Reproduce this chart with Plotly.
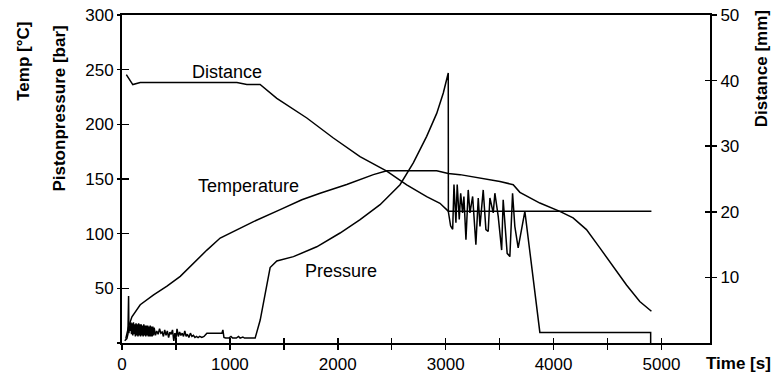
import plotly.graph_objects as go

# ---------------- data ----------------
temp_t = [35, 61, 92, 169, 293, 417, 540, 663, 787, 910, 1033, 1219, 1466, 1667, 1836,
          2083, 2330, 2454, 2917, 3024, 3133, 3503, 3626, 3688, 3873, 4058, 4181, 4305,
          4429, 4552, 4676, 4799, 4907]
temp_c = [4, 15, 24, 35, 44, 52, 61, 73, 85, 96, 102, 111, 122, 131, 137,
          145, 154, 157.6, 157.6, 155, 154, 147.8, 144.8, 137.8, 128, 120.4, 114.4, 103.7,
          87, 70, 53, 38, 29]

dist_t = [40, 100, 169, 1065, 1157, 1280, 1435, 1713, 1959, 2206, 2454, 2577, 2639,
          2824, 2947, 3024, 4907]
dist_mm = [40.9, 39.4, 39.7, 39.7, 39.4, 39.4, 37.3, 34.3, 31.25, 28.4, 26.2, 24.8, 24.1,
           22.3, 21.3, 20.1, 20.1]

press_t = [25, 45, 55, 61, 64, 70, 76, 82, 88, 94, 100, 106, 112, 118, 124, 130, 136, 142,
           148, 154, 160, 166, 172, 178, 184, 190, 196, 202, 208, 214, 220, 226, 232, 238,
           244, 250, 256, 262, 268, 274, 280, 286, 292, 298, 310, 322, 335, 348, 360, 372,
           384, 396, 408, 420, 432, 444, 456, 468, 480, 490, 500, 510, 522, 534, 546, 558,
           570, 582, 594, 606, 620, 634, 648, 662, 676, 690, 705, 720, 740, 760, 787, 830,
           880, 926, 935, 945, 960, 990, 1010, 1025, 1060, 1080, 1095, 1120, 1135, 1234,
           1281, 1327, 1373, 1435, 1589, 1805, 2021, 2207, 2392, 2577, 2700, 2824, 2917,
           2978, 3009, 3024,
           3025, 3046, 3065, 3077, 3095, 3107, 3126, 3139, 3157, 3169, 3188, 3209, 3225,
           3250, 3280, 3302, 3318, 3348, 3373, 3394, 3410, 3441, 3456, 3487, 3519, 3533,
           3570, 3595, 3620, 3641, 3672, 3734, 3873, 4900, 4900]
press_bar = [2, 4, 8, 43, 9, 16, 11, 19, 8, 18, 7, 19, 8, 17, 6, 18, 7, 17,
             6, 18, 7, 17, 6, 17, 7, 16, 6, 17, 7, 16, 6, 16, 7, 16,
             6, 15, 6, 16, 6, 15, 6, 15, 7, 14, 7, 11, 8, 13, 9, 10,
             6, 12, 7, 11, 5, 10, 8, 12, 2, 9, 4, 13, 6, 10, 7, 9,
             6, 11, 6, 8, 5, 9, 6, 7, 5, 6, 5, 6, 5, 6, 9, 9,
             9, 9, 12, 5, 4.5, 4.5, 6, 4.5, 4.5, 6, 4.5, 5.5, 4.5, 4.5,
             21, 46, 69, 75, 79, 88, 100.6, 112.8, 126.5, 144.8, 164.7, 189, 210,
             228.7, 241, 247,
             120, 107, 104, 145, 110, 145, 113, 137, 119, 134, 94.5, 140, 119,
             134, 90, 132.6, 106.7, 140, 103.7, 102, 132.6, 119, 137, 115.8, 85, 131,
             82, 79, 137, 106.7, 87, 120.4, 9.7, 9.7, 0]

x_tickvals = [0, 500, 1000, 1500, 2000, 2500, 3000, 3500, 4000, 4500, 5000]
x_ticktext = ["0", "", "1000", "", "2000", "", "3000", "", "4000", "", "5000"]
yl_tickvals = [0, 50, 100, 150, 200, 250, 300]
yl_ticktext = ["", "50", "100", "150", "200", "250", "300"]
yr_tickvals = [10, 20, 30, 40, 50]
yr_ticktext = ["10", "20", "30", "40", "50"]

X_RANGE = [0, 5450]
YL_RANGE = [0, 300]
YR_RANGE = [0, 50]

FONT = "Arial, Liberation Sans, sans-serif"
LINE = dict(color="black", width=1.5)

fig = go.Figure()
fig.add_trace(go.Scatter(x=temp_t, y=temp_c, mode="lines", line=LINE, name="Temperature",
                         xaxis="x", yaxis="y"))
fig.add_trace(go.Scatter(x=press_t, y=press_bar, mode="lines", line=LINE, name="Pressure",
                         xaxis="x", yaxis="y"))
fig.add_trace(go.Scatter(x=dist_t, y=dist_mm, mode="lines", line=LINE, name="Distance",
                         xaxis="x", yaxis="y2"))
# helper traces so the inner-tick overlay axes are drawn
fig.add_trace(go.Scatter(x=[None], y=[None], xaxis="x2", yaxis="y3", showlegend=False,
                         hoverinfo="skip"))
fig.add_trace(go.Scatter(x=[None], y=[None], xaxis="x2", yaxis="y4", showlegend=False,
                         hoverinfo="skip"))

tickfont = dict(family=FONT, size=17, color="black")
common = dict(showgrid=False, zeroline=False, tickcolor="black", tickwidth=1.5,
              automargin=False)

fig.update_layout(
    width=776, height=373,
    margin=dict(l=122, r=66, t=15, b=30, pad=0),
    paper_bgcolor="white", plot_bgcolor="white",
    showlegend=False,
    font=dict(family=FONT, color="black"),
    xaxis=dict(range=X_RANGE, tickvals=x_tickvals, ticktext=x_ticktext, ticks="outside",
               ticklen=5, showline=True, linecolor="black", linewidth=2, mirror=True,
               tickfont=tickfont, ticklabeloverflow="allow", **common),
    xaxis2=dict(range=X_RANGE, tickvals=x_tickvals, ticks="inside", ticklen=5,
                showticklabels=False, showline=False, overlaying="x", anchor="y3", **common),
    yaxis=dict(range=YL_RANGE, tickvals=yl_tickvals, ticktext=yl_ticktext, ticks="outside",
               ticklen=3, showline=True, linecolor="black", linewidth=2,
               tickfont=tickfont, ticklabeloverflow="allow", **common),
    yaxis2=dict(range=YR_RANGE, tickvals=yr_tickvals, ticktext=yr_ticktext, ticks="outside",
                ticklen=5, showline=True, linecolor="black", linewidth=2, side="right",
                overlaying="y", anchor="x", tickfont=tickfont, ticklabeloverflow="allow",
                **common),
    yaxis3=dict(range=YL_RANGE, tickvals=yl_tickvals, ticks="inside", ticklen=7,
                showticklabels=False, showline=False, overlaying="y", side="left",
                anchor="x2", **common),
    yaxis4=dict(range=YR_RANGE, tickvals=yr_tickvals, ticks="inside", ticklen=5,
                showticklabels=False, showline=False, overlaying="y", side="right",
                anchor="x2", **common),
)

title_font = dict(family=FONT, size=17, color="black")
label_font = dict(family=FONT, size=18, color="black")
annos = [
    dict(text="<b>Temp [°C]</b>", x=-0.168, y=0.858, textangle=-90, font=title_font),
    dict(text="<b>Pistonpressure [bar]</b>", x=-0.107, y=0.715, textangle=-90, font=title_font),
    dict(text="<b>Distance [mm]</b>", x=1.088, y=0.837, textangle=-90, font=title_font),
    dict(text="<b>Time [s]</b>", x=1.049, y=-0.061, font=title_font),
]
for a in annos:
    fig.add_annotation(xref="paper", yref="paper", showarrow=False,
                       xanchor="center", yanchor="middle", **a)

fig.add_annotation(text="Distance", x=975, y=248, xref="x", yref="y", showarrow=False,
                   font=label_font)
fig.add_annotation(text="Temperature", x=1170, y=143.5, xref="x", yref="y", showarrow=False,
                   font=label_font)
fig.add_annotation(text="Pressure", x=2030, y=65.7, xref="x", yref="y", showarrow=False,
                   font=label_font)

# remove the default 8px page margin so the 776x373 figure fills the window exactly
fig.write_html(
    "out.html",
    config={"displayModeBar": False, "staticPlot": True},
    post_script=(
        "document.documentElement.style.margin='0';"
        "document.documentElement.style.overflow='hidden';"
        "document.body.style.margin='0';"
        "document.body.style.overflow='hidden';"
    ),
)
